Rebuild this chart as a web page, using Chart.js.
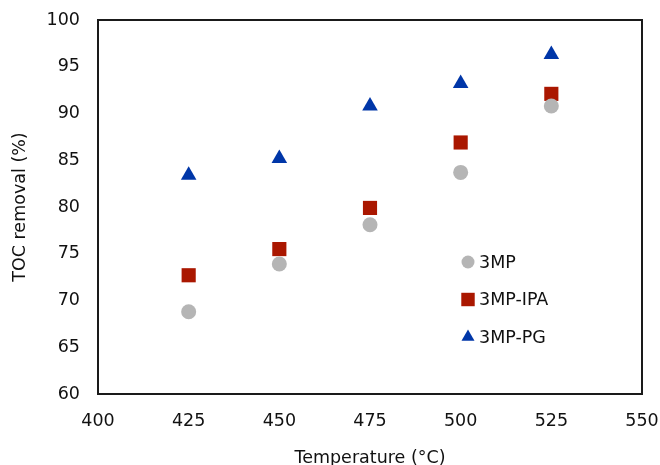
<!DOCTYPE html>
<html>
<head>
<meta charset="utf-8">
<script src="https://cdn.jsdelivr.net/npm/chart.js@4/dist/chart.umd.min.js"></script>
<style>
  html, body { margin: 0; padding: 0; background: #fff; }
  #wrap { width: 660px; height: 465px; }
</style>
</head>
<body>
<div id="wrap"><canvas id="myChart" width="660" height="465"></canvas></div>
<script>
// temperatures (°C)
const temps = [425, 450, 475, 500, 525];
// TOC removal (%)
const toc3MP = [68.8, 73.9, 78.1, 83.7, 90.8];
const toc3MPIPA = [72.7, 75.5, 79.9, 86.9, 92.1];
const toc3MPPG = [83.4, 85.2, 90.8, 93.2, 96.3];

const seriesNames = ['3MP', '3MP-IPA', '3MP-PG'];
const seriesColors = ['#b5b5b5', '#aa1700', '#0036a8'];
const seriesStyles = ['circle', 'rect', 'triangle'];
const seriesRadius = [7.5, 10, 9];

const xTicks = [400, 425, 450, 475, 500, 525, 550];
const yTicks = [60, 65, 70, 75, 80, 85, 90, 95, 100];

const fontFam = '"DejaVu Sans", Arial, sans-serif';
const fontSize = 17.5;

function toPoints(ys) {
  return temps.map((t, i) => ({ x: t, y: ys[i] }));
}

const allSeries = [toc3MP, toc3MPIPA, toc3MPPG];
let datasets = [];
for (let i = 0; i < allSeries.length; i++) {
  datasets.push({
    label: seriesNames[i],
    data: toPoints(allSeries[i]),
    backgroundColor: seriesColors[i],
    borderColor: seriesColors[i],
    borderWidth: 0,
    pointStyle: seriesStyles[i],
    pointRadius: seriesRadius[i],
    pointHoverRadius: seriesRadius[i]
  });
}

// plot frame
const framePlugin = {
  id: 'frame',
  afterDraw(chart) {
    const a = chart.chartArea;
    const ctx = chart.ctx;
    ctx.save();
    ctx.strokeStyle = '#1a1a1a';
    ctx.lineWidth = 2;
    ctx.strokeRect(a.left, a.top, a.right - a.left, a.bottom - a.top);
    ctx.restore();
  }
};

// legend inside the plot
const insideLegend = {
  id: 'insideLegend',
  afterDraw(chart) {
    const a = chart.chartArea;
    const ctx = chart.ctx;
    const x0 = a.left + 370;
    let y = a.top + 242;
    const iconR = [6.5, 9.5, 7.5];
    ctx.save();
    ctx.font = fontSize + 'px ' + fontFam;
    ctx.textBaseline = 'middle';
    ctx.textAlign = 'left';
    chart.data.datasets.forEach((ds, i) => {
      ctx.fillStyle = ds.backgroundColor;
      ctx.strokeStyle = ds.backgroundColor;
      Chart.helpers.drawPoint(ctx, {
        pointStyle: ds.pointStyle,
        radius: iconR[i],
        borderWidth: 0,
        rotation: 0
      }, x0, y);
      ctx.fillStyle = '#111';
      ctx.fillText(ds.label, x0 + 11, y + 1);
      y += 37.5;
    });
    ctx.restore();
  }
};

new Chart('myChart', {
  type: 'scatter',
  data: { datasets: datasets },
  options: {
    responsive: false,
    animation: false,
    layout: { autoPadding: false, padding: { left: 0, right: 18, top: 20, bottom: 0 } },
    plugins: {
      legend: { display: false },
      tooltip: { enabled: false }
    },
    scales: {
      x: {
        type: 'linear',
        min: 400,
        max: 550,
        afterBuildTicks: s => { s.ticks = xTicks.map(v => ({ value: v })); },
        afterFit: s => { s.height = 71; s.paddingLeft = 0; s.paddingRight = 0; },
        grid: { display: false, drawTicks: false },
        border: { display: false },
        ticks: { color: '#111', padding: 17, maxRotation: 0, font: { family: fontFam, size: fontSize } },
        title: {
          display: true,
          text: 'Temperature (°C)',
          color: '#111',
          padding: { top: 0, bottom: -4 },
          font: { family: fontFam, size: fontSize }
        }
      },
      y: {
        type: 'linear',
        min: 60,
        max: 100,
        afterBuildTicks: s => { s.ticks = yTicks.map(v => ({ value: v })); },
        afterFit: s => { s.width = 98; s.paddingTop = 0; s.paddingBottom = 0; },
        grid: { display: false, drawTicks: false },
        border: { display: false },
        ticks: { color: '#111', padding: 18, font: { family: fontFam, size: fontSize } },
        title: {
          display: true,
          text: 'TOC removal (%)',
          color: '#111',
          padding: { top: 10, bottom: 0 },
          font: { family: fontFam, size: fontSize }
        }
      }
    }
  },
  plugins: [framePlugin, insideLegend]
});
</script>
</body>
</html>
